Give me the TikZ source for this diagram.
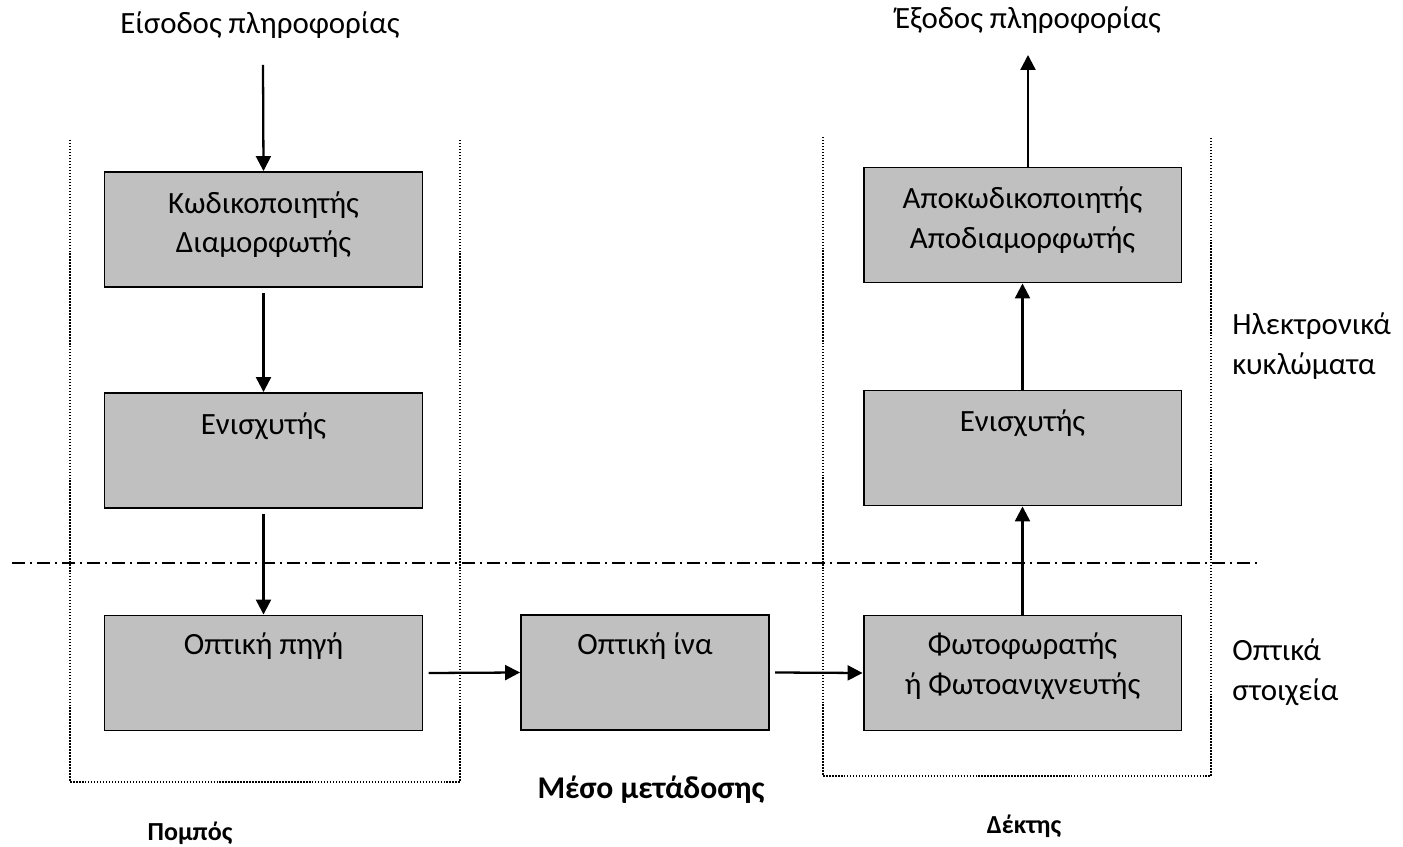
\documentclass[tikz,border=0pt]{standalone}
\usepackage{fontspec}
\setmainfont{Carlito}
\usepackage{xcolor}
\usepackage{tikz}
\usetikzlibrary{positioning,arrows.meta}

\definecolor{boxgray}{HTML}{C0C0C0}

\tikzset{
  blk/.style={draw=black, line width=1.1pt, fill=boxgray, inner sep=0pt,
    minimum width=6.36cm, minimum height=2.3cm},
  txt/.style={inner sep=0pt, align=center, font=\fontsize{17.6}{22.5}\selectfont},
  arr/.style={black, line width=1.3pt, -{Triangle[length=8.5pt,width=8.5pt]}},
  frame/.style={black, line width=0.8pt, dash pattern=on 0.8pt off 0.9pt},
}

\begin{document}
\begin{tikzpicture}[x=0.02cm, y=-0.02cm]
\useasboundingbox (0,0) rectangle (1403,847);

% blocks
\node[blk] (kod) at (263.5,229.5) {};
\node[blk] (enisL) at (263.5,450.5) {};
\node[blk] (pigi) at (263.5,673) {};
\node[blk, minimum width=4.96cm] (ina) at (645,672.5) {};
\node[blk] (fotof) at (1022.5,673) {};
\node[blk] (enisR) at (1022.5,448) {};
\node[blk] (apokod) at (1022.5,225) {};

% block texts
\node[txt, below=0.4cm of kod.north] (kodT) {Κωδικοποιητής\\Διαμορφωτής};
\node[txt, below=0.4cm of enisL.north] (enisLT) {Ενισχυτής};
\node[txt, below=0.36cm of pigi.north] (pigiT) {Οπτική πηγή};
\node[txt, below=0.36cm of ina.north] (inaT) {Οπτική ίνα};
\node[txt, below=0.36cm of fotof.north] (fotofT) {Φωτοφωρατής\\ή Φωτοανιχνευτής};
\node[txt, below=0.4cm of enisR.north] (enisRT) {Ενισχυτής};
\node[txt, below=0.4cm of apokod.north] (apokodT) {Αποκωδικοποιητής\\Αποδιαμορφωτής};

% outer texts
\node[txt] (eisodos) at (260,25) {Είσοδος πληροφορίας};
\node[txt] (exodos) at (1028,20) {Έξοδος πληροφορίας};
\node[txt, anchor=west, align=left] (ilek) at (1232,346) {Ηλεκτρονικά\\κυκλώματα};
\node[txt, anchor=west, align=left] (opt) at (1232,672) {Οπτικά\\στοιχεία};
\node[txt, font=\fontsize{18}{22.5}\bfseries] (meso) at (651,790) {Μέσο μετάδοσης};
\node[txt, font=\fontsize{14.8}{17}\bfseries] (pompos) at (190,833) {Πομπός};
\node[txt, font=\fontsize{14.8}{17}\bfseries] (dektis) at (1024,826) {Δέκτης};

% free ends
\coordinate (in) at (263,65);
\coordinate (out) at (1028,55);

% connectors
\draw[arr] (in) -- (kod.north);
\draw[arr] ([yshift=-3pt]kod.south) -- (enisL.north);
\draw[arr] ([yshift=-3pt]enisL.south) -- (pigi.north);
\draw[arr] ([xshift=3pt]pigi.east) -- (ina.west);
\draw[arr] ([xshift=3pt]ina.east) -- (fotof.west);
\draw[arr] (fotof.north) -- (enisR.south);
\draw[arr] (enisR.north) -- (apokod.south);
\draw[arr] (apokod.north -| out) -- (out);

% frames
\draw[frame] (70,140) -- (70,782) -- (460,782) -- (460,140);
\draw[frame] (823,137) -- (823,776) -- (1211,776) -- (1211,137);

% separator
\draw[black, line width=0.6pt, dash pattern=on 0.26cm off 0.1cm on 0.04cm off 0.1cm] (12,563) -- (1260,563);
\end{tikzpicture}
\end{document}
